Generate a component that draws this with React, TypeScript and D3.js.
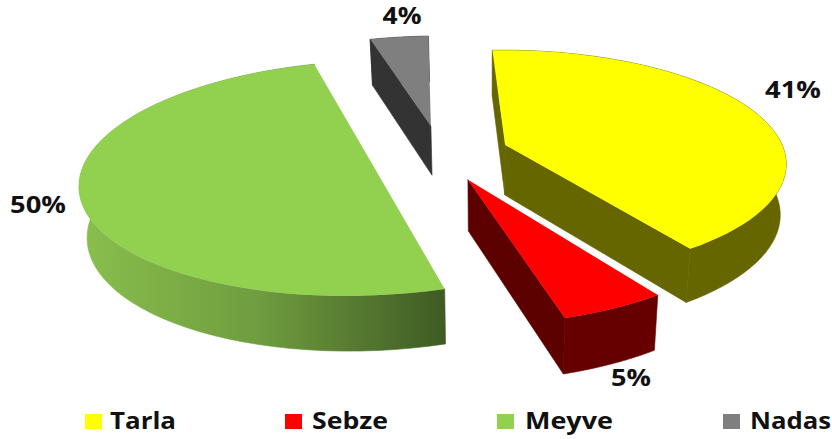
import React from "react";
import * as d3 from "d3";

const WIDTH = 832;
const HEIGHT = 439;

const categories = ["Tarla", "Sebze", "Meyve", "Nadas"];
const values = [41, 5, 50, 4];
const topColors = ["#ffff00", "#ff0000", "#92d050", "#7f7f7f"];
const wallColors = ["#666600", "#660000", "url(#greenWall)", "#333333"];
const radialColors = ["#666600", "#5c0000", "#5a8030", "#333333"];
// slice explosion in disc units (right, away from viewer)
const explodeU = [0.062, -0.069, -0.42, -0.212];
const explodeV = [0, -0.3, -0.125, 0.178];
const drawOrder = [3, 2, 0, 1];

const legendSwatchX = [85, 285, 497, 723];
const legendTextX = [110, 312, 525, 750];
const legendTextW = [66, 76, 88, 81];
const labelX = [793, 631, 38, 402];
const labelY = [98, 386, 213, 24];
const labelW = [56, 40, 56, 39];

// perspective of the disc plane
const X0 = 488;
const Y0 = 145;
const A = 277;
const B = 110;
const K = 0.16;
const DEPTH = 50;
const ROTATION = (-2.5 * Math.PI) / 180;

type Pt = [number, number];

const project = (u: number, v: number): Pt => {
  const s = 1 / (1 + K * v);
  return [X0 + A * u * s, Y0 - B * v * s];
};

// same point on the lower face of the slab
const lower = (u: number, v: number): Pt => {
  const s = 1 / (1 + K * v);
  return [X0 + A * u * s * 0.98, Y0 - B * v * s + DEPTH * Math.sqrt(s)];
};

const pieGen = d3
  .pie<number>()
  .sort(null)
  .startAngle(ROTATION)
  .endAngle(2 * Math.PI + ROTATION)
  .value((d) => d);
const arcs = pieGen(values);
const line = d3.line();

const quadVisible = (p: Pt, q: Pt, inner: Pt) => {
  const ex = q[0] - p[0];
  const ey = q[1] - p[1];
  const crossInner = ex * (inner[1] - p[1]) - ey * (inner[0] - p[0]);
  return crossInner * ex < -1e-6;
};

function Slice({ i }: { i: number }) {
  const { startAngle, endAngle } = arcs[i];
  const du = explodeU[i];
  const dv = explodeV[i];
  const at = (a: number, r = 1): [number, number] => [
    du + r * Math.sin(a),
    dv + r * Math.cos(a),
  ];
  const steps = d3.range(0, 61).map((k) => startAngle + ((endAngle - startAngle) * k) / 60);
  const rim = steps.map((a) => project(...at(a)));
  const rimLow = steps.map((a) => lower(...at(a)));
  const apex = project(du, dv);
  const apexLow = lower(du, dv);
  const mid = project(...at((startAngle + endAngle) / 2, 0.5));

  const radial = [
    { edge: rim[0], low: rimLow[0] },
    { edge: rim[60], low: rimLow[60] },
  ].filter((w) => quadVisible(apex, w.edge, mid));

  return (
    <g>
      <path
        d={line([...rim, ...[...rimLow].reverse()]) + "Z"}
        fill={wallColors[i]}
        stroke={wallColors[i]}
        strokeWidth={0.6}
      />
      {radial.map((w, k) => (
        <path
          key={k}
          d={line([apex, w.edge, w.low, apexLow]) + "Z"}
          fill={radialColors[i]}
          stroke={radialColors[i]}
          strokeWidth={0.6}
        />
      ))}
      <path d={line([apex, ...rim]) + "Z"} fill={topColors[i]} />
    </g>
  );
}

export default function App() {
  const textStyle = {
    fontFamily: '"Open Sans", "Noto Sans", sans-serif',
    fontWeight: 700,
    fill: "#111111",
  };
  return (
    <svg
      width={WIDTH}
      height={HEIGHT}
      style={{ position: "absolute", left: 0, top: 0 }}
    >
      <defs>
        <linearGradient id="greenWall" gradientUnits="userSpaceOnUse" x1={80} x2={441} y1={0} y2={0}>
          <stop offset="0" stopColor="#8abf4d" />
          <stop offset="0.5" stopColor="#6f9c3f" />
          <stop offset="1" stopColor="#3f5c24" />
        </linearGradient>
      </defs>
      <rect width={WIDTH} height={HEIGHT} fill="#ffffff" />
      {drawOrder.map((i) => (
        <Slice key={i} i={i} />
      ))}
      {values.map((v, i) => (
        <text
          key={i}
          x={labelX[i] - labelW[i] / 2}
          y={labelY[i]}
          fontSize={22.5}
          textLength={labelW[i]}
          lengthAdjust="spacingAndGlyphs"
          style={textStyle}
        >
          {v}%
        </text>
      ))}
      {categories.map((c, i) => (
        <g key={c}>
          <rect x={legendSwatchX[i]} y={414} width={17} height={15} fill={topColors[i]} />
          <text
            x={legendTextX[i]}
            y={429}
            fontSize={24}
            textLength={legendTextW[i]}
            lengthAdjust="spacingAndGlyphs"
            style={textStyle}
          >
            {c}
          </text>
        </g>
      ))}
    </svg>
  );
}
